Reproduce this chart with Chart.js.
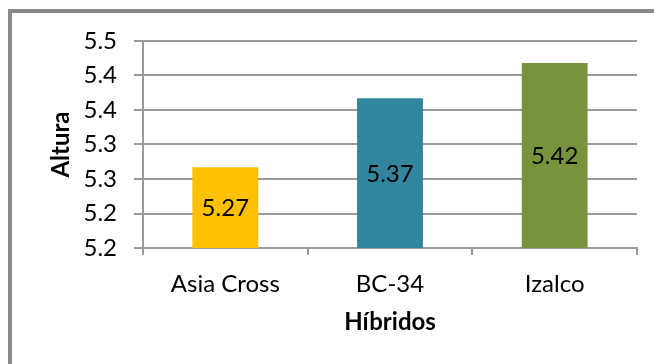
<!DOCTYPE html>
<html>
<head>
<meta charset="utf-8">
<script src="https://cdn.jsdelivr.net/npm/chart.js@4/dist/chart.umd.min.js"></script>
<style>
  html, body { margin: 0; padding: 0; background: #ffffff; }
  #wrap { position: relative; width: 654px; height: 364px; overflow: hidden; background: #ffffff; }
  #frame { position: absolute; left: 8px; top: 9px; width: 700px; height: 400px;
           border-left: 4px solid #8a8a8a; border-top: 4px solid #8a8a8a; box-sizing: border-box; }
  canvas { position: absolute; left: 0; top: 0; }
</style>
</head>
<body>
<div id="wrap">
  <div id="frame"></div>
  <canvas id="c" width="654" height="364"></canvas>
</div>
<script>
const categories = ["Asia Cross", "BC-34", "Izalco"];
const alturaValues = [5.267, 5.367, 5.418];
const barColors = ["#FFC000", "#31859C", "#77933C"];
const yTickLabels = ["5.2", "5.2", "5.3", "5.3", "5.4", "5.4", "5.5"];
const yMin = 5.15, yMax = 5.45, yStep = 0.05;
const xTitle = "Híbridos";
const yTitle = "Altura";

const FONT = "Lato";

const barValueText = {
  id: 'barValueText',
  afterDatasetsDraw(chart) {
    const ctx = chart.ctx;
    const meta = chart.getDatasetMeta(0);
    const bottom = chart.chartArea.bottom;
    ctx.save();
    ctx.font = "24px " + FONT;
    ctx.fillStyle = "#000000";
    ctx.textAlign = "center";
    ctx.textBaseline = "middle";
    meta.data.forEach((bar, i) => {
      const v = chart.data.datasets[0].data[i];
      const base = Math.min(bar.base, bottom);
      ctx.fillText(v.toFixed(2), bar.x, (bar.y + base) / 2 + 1);
    });
    ctx.restore();
  }
};

new Chart(document.getElementById('c'), {
  type: 'bar',
  data: {
    labels: categories,
    datasets: [{
      data: alturaValues,
      backgroundColor: barColors,
      borderWidth: 0,
      categoryPercentage: 1,
      barPercentage: 0.4
    }]
  },
  options: {
    responsive: false,
    animation: false,
    devicePixelRatio: 1,
    layout: { padding: { left: 43, top: 41, right: 17, bottom: 0 } },
    plugins: { legend: { display: false }, tooltip: { enabled: false } },
    scales: {
      x: {
        grid: { display: true, drawOnChartArea: false, drawTicks: true, tickLength: 7,
                color: '#9a9a9a', lineWidth: 2, offset: true },
        border: { display: true, color: '#9a9a9a', width: 2 },
        ticks: { color: '#000000', font: { family: FONT, size: 24 }, padding: 15, maxRotation: 0 },
        title: { display: true, text: xTitle, color: '#000000',
                 font: { family: FONT, size: 24, weight: 'bold' }, padding: { top: 0, bottom: 27 } },
        afterFit(scale) { scale.height = 116; }
      },
      y: {
        min: yMin, max: yMax,
        grid: { color: '#9a9a9a', lineWidth: 2, tickLength: 9 },
        border: { display: true, color: '#9a9a9a', width: 2 },
        ticks: {
          stepSize: yStep,
          color: '#000000',
          font: { family: FONT, size: 24 },
          padding: 17,
          callback: (v, i) => yTickLabels[i]
        },
        title: { display: true, text: yTitle, color: '#000000',
                 font: { family: FONT, size: 24, weight: 'bold' }, padding: { top: 4, bottom: 4 } },
        afterFit(scale) { scale.width = 100; }
      }
    }
  },
  plugins: [barValueText]
});
</script>
</body>
</html>
